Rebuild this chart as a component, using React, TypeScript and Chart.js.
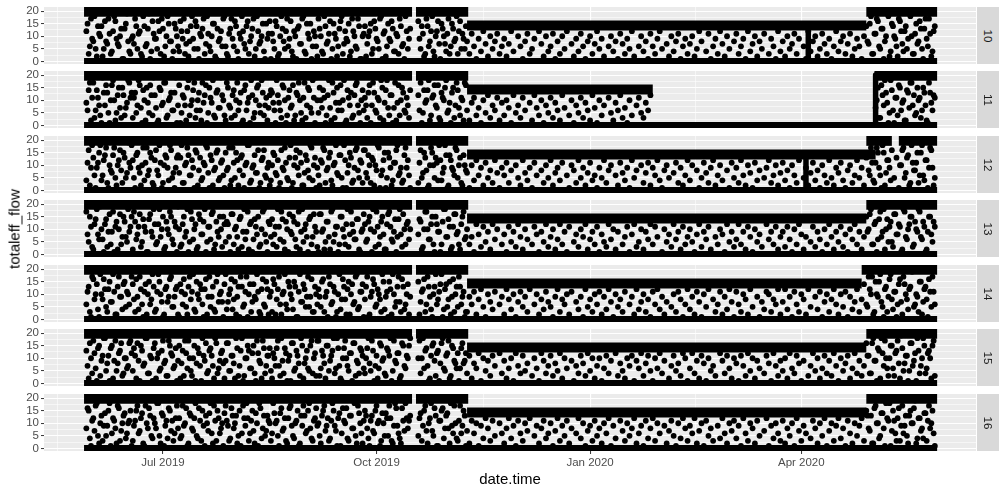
import React, { useEffect, useRef } from "react";
import { Chart, registerables } from "chart.js";
Chart.register(...registerables);

const _ = null;

// facet labels
const facetLabels = ["10", "11", "12", "13", "14", "15", "16"];

// x axis: days since 2019-05-29
const xTickDays = [33, 125, 217, 308];
const xTickLabels = ["Jul 2019", "Oct 2019", "Jan 2020", "Apr 2020"];
const xMinorDays = [-12.5, 79, 171, 262.5, 353.5];
const xRange = [-18.25, 383.25];
const yTickValues = [0, 5, 10, 15, 20];
const yMinorValues = [2.5, 7.5, 12.5, 17.5];
const yRange = [-1.03, 21.63];

// dense runs of points: [startDay, endDay, flow]
const bands10 = [[-1, 366.5, 0.1], [-1, 140.3, 19.7], [142, 164.5, 19.7], [164, 336, 14.3], [336, 366.5, 19.7]];
const bands11 = [[-1, 366.5, 0.1], [-1, 140.3, 19.7], [142, 164.5, 19.7], [164, 244, 14.3], [339.5, 366.5, 19.7]];
const bands12 = [[-1, 366.5, 0.1], [-1, 140.3, 19.7], [142, 164.5, 19.7], [164, 340, 14.3], [336, 347, 19.7], [350, 366.5, 19.7]];
const bands13 = [[-1, 366.5, 0.1], [-1, 140.3, 19.7], [142, 164.5, 19.7], [164, 336, 14.3], [336, 366.5, 19.7]];
const bands14 = [[-1, 366.5, 0.1], [-1, 140.3, 19.7], [142, 164.5, 19.7], [164, 334, 14.3], [334, 366.5, 19.7]];
const bands15 = [[-1, 366.5, 0.1], [-1, 140.3, 19.7], [142, 164.5, 19.7], [164, 336, 14.3], [336, 366.5, 19.7]];
const bands16 = [[-1, 366.5, 0.1], [-1, 140.3, 19.7], [142, 164.5, 19.7], [164, 336, 14.3], [336, 366.5, 19.7]];

// dense vertical runs: [day, fromFlow, toFlow]
const vlines10 = [[311, 0, 14]];
const vlines11 = [[340, 0, 20]];
const vlines12 = [[310, 0, 14]];
const vlines13: number[][] = [];
const vlines14: number[][] = [];
const vlines15: number[][] = [];
const vlines16: number[][] = [];

// scattered readings, one per day (day 0..365)
const p10a = [
  12,3,17,8,5,14,10,2,16,7,11,4,18,9,6,13,1,15,8,3,
  10,17,5,12,2,14,7,19,4,11,9,16,3,13,6,18,8,1,15,10,
  4,12,17,7,2,14,9,16,5,11,13,3,18,6,10,15,1,8,12,17,
  6,2,13,9,16,4,11,18,7,14,3,10,17,5,12,8,15,1,9,16,
  11,5,14,3,18,8,12,6,16,2,10,13,7,17,4,15,9,1,12,6,
  17,10,3,14,8,16,5,11,2,13,18,7,9,15,4,12,6,17,1,10,
  14,7,12,3,16,9,5,18,11,2,15,8,13,4,10,17,6,1,12,9,
  _,_,_,16,5,11,3,14,8,18,2,12,7,15,10,4,17,6,13,9,
  3,16,11,5,8,3,11,6,1,9,4,12,7,2,10,5,8,11,3,6,
  9,2,7,12,4,_,10,6,1,8,11,3,5,9,_,12,7,2,10,4,
  6,11,1,8,3,10,5,12,_,7,2,9,4,11,6,1,8,10,3,7,
  12,5,9,2,_,6,10,4,8,1,11,7,3,9,5,12,2,_,6,10,
  4,8,1,11,6,3,9,12,5,_,7,2,10,4,8,11,1,6,9,3,
  7,10,2,5,12,8,_,4,11,1,6,9,3,12,7,2,10,5,_,8,
  11,3,6,9,1,12,4,7,10,2,8,5,11,_,3,9,6,1,12,4,
  8,2,10,5,7,11,3,9,_,6,1,12,4,8,10,2,5,11,7,3,
  9,1,6,12,4,8,10,3,7,11,2,5,9,6,1,10,14,7,18,3,
  11,16,5,13,8,19,2,15,10,6,17,12,4,14,9,18,3,11,7,16,
  5,13,9,17,2,12,
];
// second reading per day, days 0..163
const p10b = [
  15,6,9,18,2,11,14,5,8,17,3,12,16,7,10,1,13,19,4,9,
  7,14,11,3,18,6,13,1,16,9,5,12,17,2,10,15,8,4,13,6,
  16,9,3,12,8,18,5,14,1,10,17,7,11,4,15,2,13,9,6,18,
  3,11,17,6,14,1,9,12,5,16,8,13,2,18,7,10,4,15,11,1,
  8,16,2,10,13,5,17,9,4,12,1,14,7,18,3,11,15,6,10,2,
  13,4,18,7,11,1,15,9,6,16,3,12,8,2,17,10,5,14,1,11,
  2,10,15,5,13,8,17,1,12,6,9,16,4,11,3,14,7,18,5,13,
  _,_,_,9,14,2,17,6,12,4,10,16,1,13,7,11,3,15,8,18,
  12,5,9,14,
];
// second reading per day, days 336..365
const p10c = [8,15,3,11,17,6,13,1,10,18,4,14,9,2,16,7,12,5,19,10,3,15,8,13,1,17,6,11,4,14];

const p11a = [
  9,14,2,17,6,11,4,19,8,13,1,16,10,5,15,3,12,7,18,11,
  3,13,8,16,1,10,15,5,12,19,7,2,14,9,17,4,11,6,13,1,
  16,5,11,2,18,8,14,3,10,6,17,12,1,15,9,4,13,7,19,10,
  2,15,7,12,4,17,9,1,14,6,11,18,3,10,16,5,13,8,2,12,
  13,6,18,9,3,15,1,11,7,16,4,12,10,2,17,8,14,5,11,19,
  5,10,14,1,12,7,17,3,15,9,6,18,2,11,13,4,16,8,1,14,
  11,3,16,8,13,5,10,18,2,14,7,12,1,17,9,4,15,6,11,3,
  _,_,_,12,17,5,9,14,2,11,16,7,3,13,10,18,6,1,15,8,
  14,4,10,17,6,2,9,11,4,7,1,10,5,12,3,8,6,11,2,9,
  4,10,7,1,12,5,8,3,11,6,_,9,2,12,7,4,10,1,8,5,
  11,3,9,6,2,12,7,_,4,10,1,8,5,11,3,9,6,2,12,7,
  1,10,4,8,_,11,5,2,9,6,12,3,7,1,10,4,_,8,11,5,
  3,9,6,12,_,_,_,_,_,_,_,_,_,_,_,_,_,_,_,_,
  _,_,_,_,_,_,_,_,_,_,_,_,_,_,_,_,_,_,_,_,
  _,_,_,_,_,_,_,_,_,_,_,_,_,_,_,_,_,_,_,_,
  _,_,_,_,_,_,_,_,_,_,_,_,_,_,_,_,_,_,_,_,
  _,_,_,_,_,_,_,_,_,_,_,_,_,_,_,_,_,_,_,_,
  7,15,3,12,18,9,5,14,1,11,16,6,10,2,13,17,8,4,15,11,
  6,13,2,17,9,12,
];
const p11b = [
  6,17,11,3,14,8,1,13,16,5,10,18,2,12,7,15,4,9,17,13,
  11,5,18,7,14,2,9,16,4,12,1,15,8,17,3,10,13,6,19,8,
  1,12,8,15,4,10,17,6,13,2,9,16,5,11,18,3,14,7,12,4,
  17,8,3,14,10,6,13,2,16,9,1,12,5,15,8,18,4,11,7,14,
  9,1,12,6,16,10,4,14,8,2,13,17,5,11,3,15,7,18,1,10,
  15,7,11,4,18,2,13,9,6,16,10,1,14,8,3,12,17,5,10,6,
  8,13,1,17,6,11,3,15,9,18,4,12,7,2,16,10,13,5,8,14,
  _,_,_,6,1,14,10,18,4,12,8,16,2,11,15,5,9,13,3,17,
  7,11,2,16,
];
const p11c = [_,_,_,_,10,3,16,8,13,1,18,6,11,4,15,9,2,14,7,17,12,5,10,3,15,8,1,13,6,11];

const p12a = [
  4,16,9,13,1,11,18,6,14,3,10,7,17,2,12,8,15,5,19,9,
  12,1,15,7,10,4,17,8,13,2,16,6,11,3,14,9,18,5,1,13,
  7,18,3,11,14,6,9,16,2,13,5,10,17,1,12,8,15,4,11,6,
  15,9,2,17,5,12,8,14,1,11,18,4,10,7,16,3,13,6,9,2,
  10,14,6,1,16,8,11,4,18,3,13,9,15,2,7,12,5,17,10,1,
  6,12,17,3,9,15,2,11,7,14,5,18,1,10,13,4,16,8,12,3,
  16,5,10,13,2,8,17,6,12,1,15,9,4,11,18,7,3,14,9,6,
  _,_,_,3,16,7,13,1,10,15,5,11,18,4,9,14,2,12,8,17,
  5,13,2,10,7,1,10,4,12,6,9,2,11,5,8,3,12,7,1,9,
  6,11,3,8,_,10,5,2,12,7,4,9,1,11,6,_,8,3,10,5,
  12,2,7,9,4,11,_,6,1,10,8,3,12,5,9,2,7,11,4,6,
  1,9,5,12,3,8,10,_,6,2,11,7,4,9,1,12,5,8,_,10,
  3,7,11,2,9,6,12,4,1,8,10,5,_,7,11,3,9,2,6,12,
  4,10,_,8,1,5,11,7,3,9,12,2,6,10,4,_,8,1,11,5,
  9,3,12,6,2,10,7,1,11,4,8,_,5,9,12,3,6,10,2,7,
  11,4,8,1,10,6,3,12,_,5,9,2,7,11,4,8,1,10,6,3,
  12,5,2,9,7,11,4,1,8,10,3,6,12,5,9,2,13,8,17,4,
  11,15,6,18,2,12,9,16,5,13,1,10,17,7,14,3,11,8,15,6,
  18,4,12,9,16,2,
];
const p12b = [
  11,2,18,6,9,15,4,12,17,1,8,14,5,10,16,3,13,7,11,18,
  5,14,9,2,17,11,6,15,3,12,8,18,1,10,13,4,16,7,9,14,
  13,3,10,17,6,12,1,15,8,4,11,18,7,14,2,9,16,5,12,1,
  8,17,4,11,15,2,13,6,10,18,3,9,14,7,1,12,16,5,11,4,
  15,7,12,3,9,17,5,13,1,10,16,6,11,2,14,8,18,4,13,9,
  2,11,16,8,13,4,10,18,6,14,1,12,7,15,3,9,17,5,11,16,
  7,14,3,12,10,18,1,8,15,5,13,2,11,16,6,9,4,17,12,1,
  _,_,_,11,5,15,8,2,17,10,13,4,12,7,18,1,14,9,6,16,
  10,3,14,8,
];
const p12c = [14,6,11,3,17,9,1,15,7,12,4,_,_,_,10,16,5,13,2,18,8,11,3,15,6,12,1,17,9,5];

const p13a = [
  17,5,11,2,14,8,19,6,12,3,16,9,1,13,10,4,15,7,18,11,
  2,13,8,16,5,11,1,14,9,18,4,12,7,15,3,10,17,6,13,1,
  10,4,15,9,1,17,6,12,3,14,8,18,5,11,16,2,13,7,10,15,
  5,12,1,16,10,7,14,3,18,9,2,13,6,11,15,4,17,8,1,12,
  14,8,3,11,17,5,13,1,9,15,6,12,2,18,10,7,14,4,16,9,
  1,16,10,5,13,2,18,8,11,4,15,7,12,3,17,9,6,14,1,10,
  12,6,15,1,9,17,4,13,8,2,16,11,5,14,7,18,3,10,12,6,
  _,_,_,8,13,3,17,10,6,15,1,12,9,4,18,7,14,2,11,16,
  9,2,15,6,10,4,7,1,12,8,3,11,5,9,2,12,6,10,_,4,
  8,1,11,5,9,3,12,7,2,10,6,_,4,11,8,1,9,5,12,3,
  7,10,2,6,12,4,9,1,11,_,5,8,3,10,7,12,2,6,9,4,
  11,1,8,5,3,12,6,10,2,9,_,4,7,11,1,8,12,3,5,10,
  2,9,6,12,4,11,7,_,1,10,5,8,3,12,6,9,2,11,4,7,
  10,5,1,8,12,3,9,6,11,2,_,7,4,10,8,1,12,5,9,3,
  6,12,4,9,2,11,7,1,10,5,8,3,_,12,6,9,4,11,2,7,
  9,3,11,6,1,10,4,12,8,2,7,_,5,11,3,9,6,1,10,4,
  12,7,2,9,5,11,3,8,1,10,6,12,4,9,2,7,15,10,18,4,
  13,6,17,9,2,14,11,5,16,8,12,1,18,7,10,15,3,13,9,17,
  6,11,2,15,8,13,
];
const p13b = [
  8,15,3,12,18,6,10,1,14,9,4,17,11,2,16,7,13,5,9,15,
  17,6,11,3,14,9,1,16,7,12,5,18,10,2,13,8,15,4,11,19,
  3,12,7,18,5,14,10,2,16,8,13,1,11,6,17,4,9,15,3,12,
  13,7,16,4,11,2,15,9,6,17,12,1,14,8,3,10,18,5,13,7,
  4,11,18,6,14,2,10,16,8,13,3,17,9,5,12,1,15,7,11,3,
  16,9,2,13,7,17,5,11,1,15,10,4,18,8,12,6,14,2,9,16,
  5,13,10,18,3,11,7,15,2,12,17,6,9,1,14,8,16,4,13,10,
  _,_,_,14,2,10,17,6,12,4,15,9,1,13,18,7,11,3,16,8,
  4,12,17,7,
];
const p13c = [9,16,4,12,1,14,7,18,10,5,13,3,16,8,11,2,17,6,12,15,4,10,18,7,13,1,9,15,5,11];

const p14a = [
  6,13,1,16,10,4,18,8,12,3,15,7,11,2,17,9,14,5,10,19,
  14,3,9,17,6,11,2,15,8,13,4,18,10,1,12,7,16,5,9,13,
  1,11,16,5,13,8,18,3,10,14,6,12,2,17,9,4,15,7,11,1,
  18,7,12,4,15,9,1,13,6,17,10,3,14,8,11,2,16,5,12,9,
  3,14,8,17,2,11,6,15,10,4,13,1,18,7,12,9,5,16,3,10,
  12,5,16,9,1,14,7,11,3,18,8,13,2,15,10,6,17,4,11,14,
  8,17,2,11,14,6,10,3,15,9,1,12,18,5,13,7,16,4,10,2,
  _,_,_,15,7,12,3,17,9,1,13,6,11,18,4,14,8,2,16,10,
  5,13,9,1,3,9,6,11,2,8,12,5,1,10,7,4,11,_,6,9,
  2,12,8,4,10,1,7,11,5,9,3,12,_,6,10,2,8,4,11,7,
  5,1,9,12,3,8,6,10,2,11,_,7,4,9,1,12,5,8,3,10,
  6,11,2,9,4,12,7,1,10,5,8,3,11,_,6,9,2,12,4,7,
  10,3,8,1,11,6,12,4,9,2,7,_,5,10,3,11,8,1,6,12,
  4,9,2,11,7,1,10,5,12,_,8,3,6,11,2,9,4,12,7,1,
  11,6,3,10,8,2,12,5,_,9,1,7,4,11,10,3,8,6,12,2,
  7,12,4,9,1,11,6,3,10,8,2,12,5,_,9,4,11,1,7,10,
  3,8,12,6,2,10,5,11,1,9,4,7,12,3,8,14,6,17,10,2,
  15,9,18,5,12,3,16,8,11,1,14,7,17,10,4,13,19,6,9,15,
  2,12,8,16,5,11,
];
const p14b = [
  11,3,17,8,14,1,10,16,5,12,7,18,2,13,9,4,15,11,6,17,
  8,16,4,12,1,14,10,6,18,3,11,15,7,2,13,9,17,5,12,2,
  14,6,10,2,17,11,4,15,8,12,1,16,9,5,13,3,18,10,7,14,
  4,10,16,8,2,13,17,5,11,1,14,7,9,18,3,12,6,15,2,11,
  16,2,12,6,10,18,4,13,8,15,1,11,7,14,5,17,9,3,13,6,
  9,15,3,11,17,6,13,1,10,4,16,8,12,2,14,7,18,5,11,1,
  13,1,9,16,5,12,8,18,4,11,15,2,10,7,17,3,13,6,14,9,
  _,_,_,2,11,16,6,13,4,10,18,8,14,1,12,5,15,9,3,13,
  17,6,11,3,
];
const p14c = [5,12,17,3,10,15,7,1,13,9,18,4,11,6,16,2,14,8,12,19,5,10,3,15,7,13,1,11,17,6];

const p15a = [
  13,2,10,17,6,14,3,11,18,8,1,15,9,5,12,16,4,10,7,17,
  5,11,16,1,13,8,18,4,10,14,2,12,6,17,9,3,15,11,7,1,
  15,8,3,12,17,5,10,1,14,7,18,9,4,13,11,2,16,6,12,8,
  9,16,5,11,2,14,7,18,3,10,13,6,15,1,12,8,17,4,11,14,
  2,10,14,7,18,4,12,9,1,16,6,11,3,15,8,13,5,17,10,3,
  17,6,11,2,15,9,13,4,18,7,1,14,10,5,12,16,3,8,14,11,
  4,14,8,17,1,11,6,15,10,3,13,18,5,9,12,2,16,7,11,15,
  _,_,_,10,4,18,13,7,2,15,9,12,1,16,6,11,17,3,14,8,
  12,6,16,9,4,11,2,8,6,12,1,10,5,9,3,11,7,_,12,4,
  9,2,6,10,1,12,7,4,11,5,8,_,3,10,6,1,12,9,4,7,
  11,3,8,5,12,2,10,6,_,9,1,7,4,11,8,3,12,5,10,2,
  7,10,1,6,11,4,9,_,12,3,8,5,2,10,7,11,1,9,6,12,
  3,8,11,5,1,10,6,12,4,9,_,2,7,11,5,8,3,12,10,1,
  6,12,4,9,2,11,8,1,10,5,7,3,_,12,9,4,11,6,2,10,
  8,1,11,7,3,12,5,10,2,9,6,_,4,11,8,1,12,7,3,9,
  5,10,2,12,6,4,11,8,1,9,_,3,7,12,5,10,2,6,11,4,
  9,3,12,7,1,10,5,8,11,2,6,12,4,9,3,7,16,11,4,18,
  9,14,2,12,17,6,10,15,3,13,8,19,5,11,1,16,7,12,18,4,
  10,15,6,13,2,17,
];
const p15b = [
  7,16,4,12,1,15,9,18,5,11,14,2,17,8,13,3,10,6,16,12,
  14,2,9,15,7,18,4,11,1,16,10,5,13,8,3,17,12,6,14,9,
  2,13,17,6,10,3,15,8,12,1,11,16,5,14,7,18,4,9,13,2,
  16,5,11,8,18,3,13,1,10,15,6,12,4,17,9,2,14,7,11,5,
  12,7,17,3,9,14,1,11,16,5,13,8,18,2,10,6,15,4,12,17,
  3,13,8,15,5,11,18,6,14,2,10,17,7,12,1,16,9,4,13,6,
  10,18,5,13,7,2,16,9,4,14,11,1,17,8,12,3,15,6,10,18,
  _,_,_,17,10,6,14,1,11,16,3,13,8,18,5,12,2,15,9,6,
  1,14,8,12,
];
const p15c = [11,4,16,9,1,13,18,7,10,3,15,6,12,17,2,14,8,11,5,16,9,1,13,7,18,4,12,10,15,3];

const p16a = [
  8,15,1,12,17,5,10,3,14,9,18,6,11,2,16,7,13,4,10,15,
  3,11,17,7,14,1,10,16,5,12,8,18,2,13,9,4,15,11,6,17,
  12,5,9,16,2,13,7,18,4,11,15,1,10,14,6,17,3,12,8,1,
  17,9,4,13,10,2,15,6,12,18,3,11,7,14,1,16,8,5,13,10,
  6,14,11,1,16,8,3,12,17,5,10,15,2,9,13,7,18,4,11,16,
  10,2,15,7,12,4,18,9,1,14,6,11,16,3,13,8,5,17,10,2,
  15,8,1,13,6,17,11,3,10,14,5,12,2,18,9,4,16,7,12,11,
  _,_,_,5,14,9,17,2,12,7,16,1,11,15,4,13,8,18,6,10,
  3,17,9,13,7,2,11,6,10,1,9,4,12,8,3,11,5,_,10,6,
  2,8,12,4,9,1,11,6,3,10,7,12,_,5,9,2,8,11,4,6,
  10,1,7,12,3,9,5,11,2,8,_,6,12,4,10,1,7,9,3,11,
  5,8,2,10,6,12,1,9,4,_,11,7,3,10,5,8,12,2,6,9,
  1,11,4,8,12,3,10,6,_,9,2,7,11,5,1,10,4,12,8,3,
  9,6,12,2,7,10,1,11,5,8,3,_,9,4,12,6,2,10,7,11,
  4,9,1,12,6,3,10,8,2,11,5,_,7,12,1,9,4,10,6,3,
  11,2,8,5,10,1,12,7,3,9,6,_,4,11,8,2,10,5,12,1,
  7,10,3,9,12,4,8,1,11,6,2,10,5,9,12,3,15,8,13,2,
  17,10,5,14,1,12,18,7,11,3,16,9,6,13,2,15,10,19,4,12,
  8,14,3,17,10,6,
];
const p16b = [
  16,4,11,7,18,2,13,9,5,15,1,12,8,17,3,10,14,6,11,1,
  9,15,6,12,2,17,8,13,4,10,18,5,14,1,11,16,7,3,12,8,
  4,17,10,1,14,8,12,5,16,3,9,13,7,18,2,11,15,6,10,14,
  11,3,16,8,13,5,1,17,9,12,6,15,2,10,18,4,13,7,11,3,
  18,10,5,14,7,12,2,16,9,4,11,1,13,17,6,15,8,3,12,9,
  5,13,17,9,3,11,15,7,12,1,16,10,4,13,8,18,2,14,6,11,
  13,4,11,7,15,10,1,14,5,12,17,3,9,16,6,2,11,18,8,13,
  _,_,_,12,3,15,7,10,18,5,13,1,11,16,8,14,2,9,17,4,
  11,6,15,1,
];
const p16c = [13,7,2,16,10,4,14,8,18,11,1,15,6,12,3,17,9,5,13,10,16,2,12,7,4,14,11,8,15,1];

const panels = [
  { a: p10a, b: p10b, c: p10c, bands: bands10, vlines: vlines10 },
  { a: p11a, b: p11b, c: p11c, bands: bands11, vlines: vlines11 },
  { a: p12a, b: p12b, c: p12c, bands: bands12, vlines: vlines12 },
  { a: p13a, b: p13b, c: p13c, bands: bands13, vlines: vlines13 },
  { a: p14a, b: p14b, c: p14c, bands: bands14, vlines: vlines14 },
  { a: p15a, b: p15b, c: p15c, bands: bands15, vlines: vlines15 },
  { a: p16a, b: p16b, c: p16c, bands: bands16, vlines: vlines16 },
];

// layout
const W = 1007;
const H = 493;
const PANEL_TOPS = [7, 71, 136, 200, 265, 329, 394];
const PANEL_H = 57;
const PLOT_LEFT = 44;
const PLOT_RIGHT = 976;
const PAD = 6;
const FONT = '"Liberation Sans", Arial, Helvetica, sans-serif';

const toPts = (arr: (number | null)[], offset: number) =>
  arr.flatMap((v, i) => (v == null ? [] : [{ x: i + offset, y: v }]));

const bgPlugin = {
  id: "panelBg",
  beforeDraw(chart: any) {
    const { ctx, chartArea } = chart;
    ctx.save();
    ctx.fillStyle = "#EBEBEB";
    ctx.fillRect(chartArea.left, chartArea.top, chartArea.right - chartArea.left, chartArea.bottom - chartArea.top);
    ctx.restore();
  },
};

export default function App() {
  const refs = useRef<(HTMLCanvasElement | null)[]>([]);

  useEffect(() => {
    const charts: Chart[] = [];
    panels.forEach((p, i) => {
      const canvas = refs.current[i];
      if (!canvas) return;
      const last = i === panels.length - 1;
      const canvasTop = PANEL_TOPS[i] - PAD;
      const canvasH = last ? H - canvasTop : PANEL_H + 2 * PAD;

      const datasets: any[] = [];
      p.bands.forEach(([s, e, v]) => {
        datasets.push({
          type: "line",
          data: [{ x: s, y: v }, { x: e, y: v }],
          borderColor: "#000000",
          borderWidth: v < 1 ? 6.5 : 10,
          borderCapStyle: "butt",
          pointRadius: 0,
          fill: false,
          tension: 0,
        });
      });
      p.vlines.forEach(([d, y0, y1]) => {
        datasets.push({
          type: "line",
          data: [{ x: d, y: y0 }, { x: d, y: y1 }],
          borderColor: "#000000",
          borderWidth: 5.5,
          borderCapStyle: "round",
          pointRadius: 0,
          fill: false,
        });
      });
      [toPts(p.a, 0), toPts(p.b, 0.5), toPts(p.c, 336.5)].forEach((pts) => {
        datasets.push({
          type: "scatter",
          data: pts,
          pointRadius: 2.9,
          pointBackgroundColor: "#000000",
          pointBorderWidth: 0,
          showLine: false,
        });
      });

      const xAll = [...xMinorDays, ...xTickDays].sort((a, b) => a - b);
      const yAll = [...yMinorValues, ...yTickValues].sort((a, b) => a - b);

      charts.push(
        new Chart(canvas, {
          type: "scatter",
          data: { datasets },
          plugins: [bgPlugin],
          options: {
            animation: false,
            responsive: false,
            maintainAspectRatio: false,
            devicePixelRatio: 1,
            events: [],
            layout: { padding: { left: 0, right: W - PLOT_RIGHT, top: PAD, bottom: last ? 0 : PAD } },
            plugins: { legend: { display: false }, tooltip: { enabled: false } },
            scales: {
              x: {
                type: "linear",
                min: xRange[0],
                max: xRange[1],
                border: { display: false },
                afterBuildTicks: (s: any) => {
                  s.ticks = xAll.map((v) => ({ value: v }));
                },
                afterFit: (s: any) => {
                  s.height = last ? canvasH - PAD - PANEL_H : 0;
                  s.paddingLeft = 0;
                  s.paddingRight = 0;
                },
                grid: {
                  color: "#FFFFFF",
                  lineWidth: (c: any) => (xTickDays.includes(c.tick?.value) ? 1.1 : 0.55),
                  drawTicks: last,
                  tickLength: 3,
                  tickWidth: 1,
                  tickColor: (c: any) => (xTickDays.includes(c.tick?.value) ? "#333333" : "rgba(0,0,0,0)"),
                },
                ticks: {
                  display: last,
                  autoSkip: false,
                  maxRotation: 0,
                  padding: 2,
                  color: "#4D4D4D",
                  font: { family: FONT, size: 11.5 },
                  callback: (v: any) => {
                    const k = xTickDays.indexOf(Number(v));
                    return k >= 0 ? xTickLabels[k] : "";
                  },
                },
              },
              y: {
                type: "linear",
                min: yRange[0],
                max: yRange[1],
                border: { display: false },
                afterBuildTicks: (s: any) => {
                  s.ticks = yAll.map((v) => ({ value: v }));
                },
                afterFit: (s: any) => {
                  s.width = PLOT_LEFT;
                  s.paddingTop = 0;
                  s.paddingBottom = 0;
                },
                grid: {
                  color: "#FFFFFF",
                  lineWidth: (c: any) => (yTickValues.includes(c.tick?.value) ? 1.1 : 0.55),
                  tickLength: 3,
                  tickWidth: 1,
                  tickColor: (c: any) => (yTickValues.includes(c.tick?.value) ? "#333333" : "rgba(0,0,0,0)"),
                },
                ticks: {
                  autoSkip: false,
                  padding: 2,
                  color: "#4D4D4D",
                  font: { family: FONT, size: 11.5 },
                  callback: (v: any) => (yTickValues.includes(Number(v)) ? String(v) : ""),
                },
              },
            },
          } as any,
        })
      );
    });
    return () => charts.forEach((c) => c.destroy());
  }, []);

  return (
    <div
      style={{
        position: "absolute",
        left: 0,
        top: 0,
        width: W,
        height: H,
        background: "#FFFFFF",
        fontFamily: FONT,
        overflow: "hidden",
      }}
    >
      {panels.map((_p, i) => {
        const last = i === panels.length - 1;
        const top = PANEL_TOPS[i] - PAD;
        const h = last ? H - top : PANEL_H + 2 * PAD;
        return (
          <canvas
            key={"c" + i}
            ref={(el) => {
              refs.current[i] = el;
            }}
            width={W}
            height={h}
            style={{ position: "absolute", left: 0, top, width: W, height: h }}
          />
        );
      })}
      {facetLabels.map((lab, i) => (
        <div
          key={"s" + i}
          style={{
            position: "absolute",
            left: PLOT_RIGHT + 1,
            top: PANEL_TOPS[i],
            width: 22,
            height: PANEL_H,
            background: "#D9D9D9",
            display: "flex",
            alignItems: "center",
            justifyContent: "center",
          }}
        >
          <span
            style={{
              display: "inline-block",
              transform: "rotate(90deg)",
              fontSize: 11.5,
              lineHeight: "12px",
              color: "#1A1A1A",
              whiteSpace: "nowrap",
            }}
          >
            {lab}
          </span>
        </div>
      ))}
      <div
        style={{
          position: "absolute",
          left: 14,
          top: 229,
          transform: "translate(-50%, -50%) rotate(-90deg)",
          fontSize: 15,
          lineHeight: "15px",
          color: "#000000",
          whiteSpace: "nowrap",
        }}
      >
        totaleff_flow
      </div>
      <div
        style={{
          position: "absolute",
          left: (PLOT_LEFT + PLOT_RIGHT) / 2,
          top: 471,
          transform: "translateX(-50%)",
          fontSize: 15,
          lineHeight: "15px",
          color: "#000000",
          whiteSpace: "nowrap",
        }}
      >
        date.time
      </div>
    </div>
  );
}
